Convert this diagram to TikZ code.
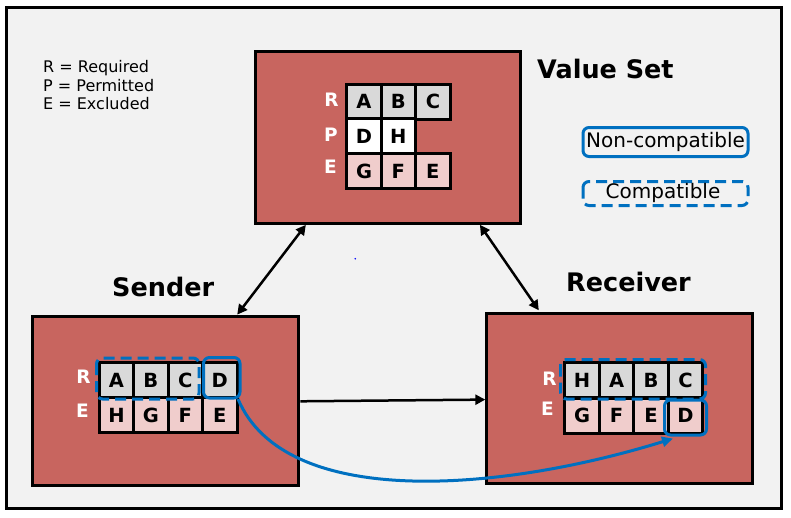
\documentclass[tikz,border=0pt]{standalone}
\usepackage{fontspec}
\setmainfont{DejaVu Sans}
\usetikzlibrary{arrows.meta,calc}
\definecolor{bg}{HTML}{F2F2F2}
\definecolor{boxred}{HTML}{C8655F}
\definecolor{cellgray}{HTML}{D9D9D9}
\definecolor{cellpink}{HTML}{F0CDCC}
\definecolor{myblue}{HTML}{0070C0}
\tikzset{
  bigbox/.style={draw=black, line width=3pt, fill=boxred, inner sep=0pt},
  cellbox/.style={draw=black, line width=3pt, minimum width=34.5pt, minimum height=35pt, inner sep=0pt, font=\fontsize{19.5}{21}\selectfont\bfseries},
  gcell/.style={cellbox, fill=cellgray},
  wcell/.style={cellbox, fill=white},
  pcell/.style={cellbox, fill=cellpink},
  rowlab/.style={text=white, inner sep=0pt, anchor=base, font=\fontsize{18.5}{20}\selectfont\bfseries},
  title/.style={inner sep=0pt, anchor=base west, font=\fontsize{25.5}{28}\selectfont\bfseries},
  legtext/.style={inner sep=0pt, anchor=base west, font=\fontsize{16}{18}\selectfont},
  noncompat/.style={draw=myblue, line width=3pt, rounded corners=6pt},
  compat/.style={draw=myblue, line width=3pt, rounded corners=6pt, dash pattern=on 11pt off 6pt},
  dblarrow/.style={line width=2.5pt, {Triangle[length=10pt,width=10pt]}-{Triangle[length=10pt,width=10pt]}},
  onearrow/.style={line width=2.5pt, -{Triangle[length=10pt,width=10pt]}},
}
\begin{document}
\begin{tikzpicture}[x=1pt,y=-1pt]
\useasboundingbox (0,0) rectangle (791,517);
\fill[white] (0,0) rectangle (791,517);
\draw[line width=3pt, fill=bg] (6.5,7.5) rectangle (781.5,508);

% legend text
\node[legtext] (l1) at (43,72.7) {R = Required};
\node[legtext] (l2) at (43,91.2) {P = Permitted};
\node[legtext] (l3) at (43,109.7) {E = Excluded};

% legend boxes
\draw[noncompat] (583,127.5) rectangle (748,156.5);
\node[inner sep=0pt, font=\fontsize{20}{22}\selectfont] (nc) at (665.5,141.5) {Non-compatible};
\draw[compat] (583,181.5) rectangle (748,205.5);
\node[inner sep=0pt, font=\fontsize{20}{22}\selectfont] (cp) at (663,193) {Compatible};

% boxes
\node[bigbox, minimum width=264.7pt, minimum height=171.6pt] (vs) at (387.7,137.5) {};
\node[bigbox, minimum width=266.6pt, minimum height=169.3pt] (snd) at (165.5,400.8) {};
\node[bigbox, minimum width=266pt, minimum height=170pt] (rcv) at (619.8,398.8) {};

% titles
\node[title] (tvs) at (537,78.3) {Value Set};
\node[title] (tsnd) at (112,296.7) {Sender};
\node[title] (trcv) at (566,291) {Receiver};

% value set cells
\node[gcell] (vA) at (364,101.7) {A};
\node[gcell] (vB) at (398.4,101.7) {B};
\node[gcell] (vC) at (432.9,101.7) {C};
\node[wcell] (vD) at (364,136.4) {D};
\node[wcell] (vH) at (398.4,136.4) {H};
\node[pcell] (vG) at (364,171.2) {G};
\node[pcell] (vF) at (398.4,171.2) {F};
\node[pcell] (vE) at (432.9,171.2) {E};
\node[rowlab] (vR) at (331.5,106) {R};
\node[rowlab] (vP) at (331,141) {P};
\node[rowlab] (vEl) at (330.5,173.3) {E};

% sender cells
\node[gcell] (sA) at (116.5,380) {A};
\node[gcell] (sB) at (150.9,380) {B};
\node[gcell] (sC) at (185.3,380) {C};
\node[gcell] (sD) at (219.8,380) {D};
\node[pcell] (sH) at (116.5,415) {H};
\node[pcell] (sG) at (150.9,415) {G};
\node[pcell] (sF) at (185.3,415) {F};
\node[pcell] (sE) at (219.8,415) {E};
\node[rowlab] (sR) at (83.6,383.3) {R};
\node[rowlab] (sEl) at (82.5,417.3) {E};

% receiver cells
\node[gcell] (rH) at (582,380) {H};
\node[gcell] (rA) at (616.6,380) {A};
\node[gcell] (rB) at (651,380) {B};
\node[gcell] (rC) at (685.5,380) {C};
\node[pcell] (rG) at (582,415.6) {G};
\node[pcell] (rF) at (616.6,415.6) {F};
\node[pcell] (rE) at (651,415.6) {E};
\node[pcell] (rD) at (685.5,415.6) {D};
\node[rowlab] (rR) at (549.6,385) {R};
\node[rowlab] (rEl) at (547.5,415.7) {E};

% compatibility outlines
\draw[compat] (96.5,358) rectangle (199,399);
\draw[noncompat] (203.5,357.5) rectangle (240,398);
\draw[compat] (560.5,359.5) rectangle (705.5,399);
\draw[noncompat] (664.5,400) rectangle (706.5,435);

% arrows
\coordinate (a1s) at ($(vs.south west)+(52,0)$);
\coordinate (a1e) at ($(snd.north west)+(206.5,0)$);
\draw[dblarrow] (a1s) -- (a1e);
\coordinate (a2s) at ($(vs.south west)+(226,0)$);
\coordinate (a2e) at ($(rcv.north west)+(53.5,-2)$);
\draw[dblarrow] (a2s) -- (a2e);
\coordinate (a3s) at ($(snd.east)+(0,0.5)$);
\coordinate (a3e) at ($(rcv.west)+(0,0.8)$);
\draw[onearrow] (a3s) -- (a3e);

% blue curve
\coordinate (bs) at (238,399);
\coordinate (be) at (673,438.5);
\draw[draw=myblue, line width=3pt, -{Triangle[length=11pt,width=10pt]}] (bs) .. controls (285,510) and (500,492) .. (be);

% small dot
\fill[blue] (355.3,258.7) circle (0.9);
\end{tikzpicture}
\end{document}
